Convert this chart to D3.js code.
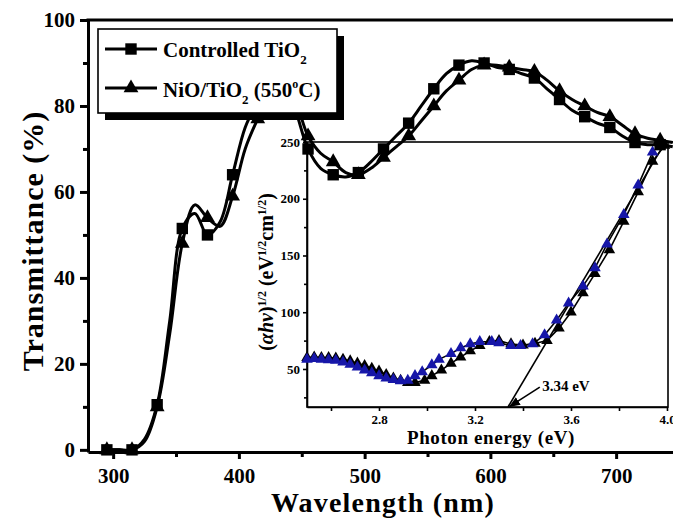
<!DOCTYPE html>
<html>
<head>
<meta charset="utf-8">
<script src="https://d3js.org/d3.v7.min.js"></script>
<style>
  body { margin: 0; background: #fff; }
  svg text { font-family: "Liberation Serif", "Times New Roman", serif; font-weight: bold; fill: #000; }
</style>
</head>
<body>
<div id="figure"></div>
<script>
// main plot: transmittance read every 10 nm, markers on every second point
var wavelengths = [295,305,315,325,335,345,355,365,375,385,395,405,415,425,435,445,455,465,475,485,495,505,515,525,535,545,555,565,575,585,595,605,615,625,635,645,655,665,675,685,695,705,715,725,735,745];
var controlled = [0,0,0,2.5,10.5,30,51.5,55,50,53,64,75,81,86,86,79,70,65.5,64,63.5,64.5,67,70,73,76,80,84,87.5,89.5,90.5,90,89,88.5,87.5,86.5,84,81.5,79,77.5,76,75,73,71.5,71,71,70.5];
var nio = [0,0,0,2,10,27,48,57,54,52,59,70,77,83,85,81,73,69,67,64.5,64,65.5,68,70.5,73,76.5,80,83.5,86,88.5,89.5,89.5,89,88.5,88,86,83.5,81.5,80,78.5,77.5,75.5,73.5,72.5,72,71.5];
var markerWl = [295,315,335,355,375,395,415,435,455,475,495,515,535,555,575,595,615,635,655,675,695,715,735];
var xTicks = [300,400,500,600,700];
var yTicks = [0,20,40,60,80,100];

// inset: (alpha h nu)^1/2 vs photon energy
var blackE = [2.50,2.53,2.56,2.59,2.62,2.65,2.68,2.71,2.74,2.77,2.80,2.83,2.86,2.89,2.92,2.95,2.99,3.02,3.06,3.10,3.14,3.18,3.22,3.26,3.30,3.35,3.40,3.45,3.50,3.55,3.60,3.65,3.70,3.76,3.82,3.88,3.94,3.99];
var blackV = [60,60.5,60,60,59.5,58.5,57,55,53,50.5,48,45,42,40,38,38,40,44,49,55,60.5,66,70.5,74,75,72,71,72.5,75,86,100,117,134,155,180,206,233,247];
var blueE = [2.50,2.53,2.56,2.59,2.62,2.65,2.68,2.71,2.74,2.77,2.80,2.83,2.86,2.89,2.92,2.95,2.98,3.02,3.05,3.10,3.14,3.18,3.22,3.27,3.30,3.35,3.39,3.44,3.49,3.54,3.59,3.65,3.70,3.75,3.82,3.88,3.94];
var blueV = [58.5,59,58.5,58,57.5,56,54,51.5,49,46.5,44,42,40.5,39.5,40,44,47.5,53.5,58.5,63.5,68.5,72,74,74,73,70.5,70.5,72,80,93,108,123,139,160,186,212,241];
var fitE = [3.3375,3.985];
var fitV = [16.5,247];
var insetXTicks = [2.8,3.2,3.6,4.0];
var insetYTicks = [50,100,150,200,250];

var width = 673, height = 521;
var svg = d3.select("#figure").append("svg")
  .attr("width", width).attr("height", height);

svg.append("defs").append("marker")
  .attr("id", "arrow").attr("viewBox", "0 0 10 10")
  .attr("refX", 9).attr("refY", 5)
  .attr("markerWidth", 7).attr("markerHeight", 7)
  .attr("orient", "auto")
  .append("path").attr("d", "M0,1 L10,5 L0,9 Z").attr("fill", "#000");

var x = d3.scaleLinear().domain([280, 750]).range([88, 679]);
var y = d3.scaleLinear().domain([-0.5, 100]).range([452, 20]);

function styleAxis(g, w) {
  g.selectAll("path").attr("stroke", "#000").attr("stroke-width", w);
  g.selectAll("line").attr("stroke", "#000").attr("stroke-width", w);
}

// main axes
var gx = svg.append("g").attr("transform", "translate(0,452)")
  .call(d3.axisBottom(x).tickValues(xTicks).tickSize(7).tickSizeOuter(0).tickPadding(9));
gx.selectAll("text").style("font-size", "21px");
styleAxis(gx, 3);
var gxm = svg.append("g").attr("transform", "translate(0,452)")
  .call(d3.axisBottom(x).tickValues([350,450,550,650]).tickSize(5).tickFormat(""));
gxm.select("path").remove();
styleAxis(gxm, 3);

var gy = svg.append("g").attr("transform", "translate(88,0)")
  .call(d3.axisLeft(y).tickValues(yTicks).tickSize(8).tickSizeOuter(0).tickPadding(5));
gy.selectAll("text").style("font-size", "21px");
styleAxis(gy, 3);
var gym = svg.append("g").attr("transform", "translate(88,0)")
  .call(d3.axisLeft(y).tickValues([10,30,50,70,90]).tickSize(5).tickFormat(""));
gym.select("path").remove();
styleAxis(gym, 3);

svg.append("line").attr("x1", 86.5).attr("x2", 679).attr("y1", 20).attr("y2", 20)
  .attr("stroke", "#000").attr("stroke-width", 3);

svg.append("text").attr("x", 383).attr("y", 512).attr("text-anchor", "middle")
  .style("font-size", "28px").style("letter-spacing", "1.2px").text("Wavelength (nm)");
svg.append("text").attr("transform", "translate(43,241) rotate(-90)").attr("text-anchor", "middle")
  .style("font-size", "30px").style("letter-spacing", "1px").text("Transmittance (%)");

// inset
var xi = d3.scaleLinear().domain([2.5, 4.0]).range([307, 667]);
var yi = d3.scaleLinear().domain([16.5, 250]).range([407, 142]);
var inset = svg.append("g");

inset.append("rect").attr("x", 307).attr("y", 142).attr("width", 361).attr("height", 265)
  .attr("fill", "#fff").attr("stroke", "#000").attr("stroke-width", 1.6);
inset.append("line").attr("x1", 668).attr("x2", 673).attr("y1", 142).attr("y2", 142)
  .attr("stroke", "#000").attr("stroke-width", 1.6);

var gxi = inset.append("g").attr("transform", "translate(0,407)")
  .call(d3.axisBottom(xi).tickValues(insetXTicks).tickSize(4).tickSizeOuter(0).tickPadding(4)
    .tickFormat(d3.format(".1f")));
gxi.selectAll("text").style("font-size", "13px");
styleAxis(gxi, 1.6);
var gxim = inset.append("g").attr("transform", "translate(0,407)")
  .call(d3.axisBottom(xi).tickValues([2.6,3.0,3.4,3.8]).tickSize(4).tickFormat(""));
gxim.select("path").remove();
styleAxis(gxim, 1.6);

var gyi = inset.append("g").attr("transform", "translate(307,0)")
  .call(d3.axisLeft(yi).tickValues(insetYTicks).tickSize(4).tickSizeOuter(0).tickPadding(3));
gyi.selectAll("text").style("font-size", "13px");
styleAxis(gyi, 1.6);
var gyim = inset.append("g").attr("transform", "translate(307,0)")
  .call(d3.axisLeft(yi).tickValues([25,75,125,175,225]).tickSize(3).tickFormat(""));
gyim.select("path").remove();
styleAxis(gyim, 1.6);

var fitLine = d3.line().x(function (d, i) { return xi(fitE[i]); }).y(function (d) { return yi(d); });
inset.append("path").attr("d", fitLine(fitV))
  .attr("fill", "none").attr("stroke", "#000").attr("stroke-width", 1.6);

function insetSeries(E, V, color) {
  var line = d3.line().x(function (d, i) { return xi(E[i]); }).y(function (d) { return yi(d); });
  inset.append("path").attr("d", line(V))
    .attr("fill", "none").attr("stroke", "#000").attr("stroke-width", 1.6);
  inset.selectAll(null).data(V).enter().append("path")
    .attr("d", d3.symbol(d3.symbolTriangle).size(58))
    .attr("transform", function (d, i) { return "translate(" + xi(E[i]) + "," + yi(d) + ")"; })
    .attr("fill", color);
}
insetSeries(blackE, blackV, "#000");
insetSeries(blueE, blueV, "#1616a8");

inset.append("line")
  .attr("x1", xi(3.47)).attr("y1", yi(34))
  .attr("x2", xi(3.345)).attr("y2", yi(17))
  .attr("stroke", "#000").attr("stroke-width", 1.6).attr("marker-end", "url(#arrow)");
inset.append("text").attr("x", xi(3.48)).attr("y", yi(30.6))
  .style("font-size", "15px").text("3.34 eV");

inset.append("text").attr("x", 491).attr("y", 444).attr("text-anchor", "middle")
  .style("font-size", "19px").style("letter-spacing", "0.6px").text("Photon energy (eV)");

var yl = inset.append("text").attr("transform", "translate(273,272) rotate(-90)")
  .attr("text-anchor", "middle").style("font-size", "20px");
yl.append("tspan").text("(");
yl.append("tspan").style("font-style", "italic").text("αhν");
yl.append("tspan").text(")");
yl.append("tspan").attr("baseline-shift", "super").style("font-size", "12px").text("1/2");
yl.append("tspan").text(" (eV");
yl.append("tspan").attr("baseline-shift", "super").style("font-size", "12px").text("1/2");
yl.append("tspan").text("cm");
yl.append("tspan").attr("baseline-shift", "super").style("font-size", "12px").text("1/2");
yl.append("tspan").text(")");

// main curves
var mainLine = d3.line().curve(d3.curveCatmullRom)
  .x(function (d, i) { return x(wavelengths[i]); }).y(function (d) { return y(d); });

function mainSeries(values, symbol, size) {
  svg.append("path").attr("d", mainLine(values))
    .attr("fill", "none").attr("stroke", "#000").attr("stroke-width", 3);
  var pts = wavelengths.map(function (w, i) { return [w, values[i]]; })
    .filter(function (p) { return markerWl.indexOf(p[0]) >= 0; });
  svg.selectAll(null).data(pts).enter().append("path")
    .attr("d", d3.symbol(symbol).size(size))
    .attr("transform", function (p) { return "translate(" + x(p[0]) + "," + y(p[1]) + ")"; })
    .attr("fill", "#000");
}
mainSeries(controlled, d3.symbolSquare, 130);
mainSeries(nio, d3.symbolTriangle, 95);

// legend
var lg = svg.append("g");
lg.append("rect").attr("x", 105).attr("y", 36).attr("width", 239).attr("height", 84).attr("fill", "#000");
lg.append("rect").attr("x", 98).attr("y", 29).attr("width", 239).attr("height", 84)
  .attr("fill", "#fff").attr("stroke", "#000").attr("stroke-width", 1.6);

var legendRows = [
  { y: 49, symbol: d3.symbolSquare, size: 130 },
  { y: 88, symbol: d3.symbolTriangle, size: 95 }
];
legendRows.forEach(function (r) {
  lg.append("line").attr("x1", 105).attr("x2", 157).attr("y1", r.y).attr("y2", r.y)
    .attr("stroke", "#000").attr("stroke-width", 3);
  lg.append("path").attr("d", d3.symbol(r.symbol).size(r.size))
    .attr("transform", "translate(131," + r.y + ")").attr("fill", "#000");
});

var t1 = lg.append("text").attr("x", 163).attr("y", 57).style("font-size", "21px");
t1.append("tspan").text("Controlled TiO");
t1.append("tspan").attr("dy", 7).style("font-size", "13px").text("2");

var t2 = lg.append("text").attr("x", 163).attr("y", 97).style("font-size", "21px");
t2.append("tspan").text("NiO/TiO");
t2.append("tspan").attr("dy", 7).style("font-size", "13px").text("2");
t2.append("tspan").attr("dy", -7).text(" (550");
t2.append("tspan").attr("dy", -9).style("font-size", "12px").text("o");
t2.append("tspan").attr("dy", 9).text("C)");
</script>
</body>
</html>
